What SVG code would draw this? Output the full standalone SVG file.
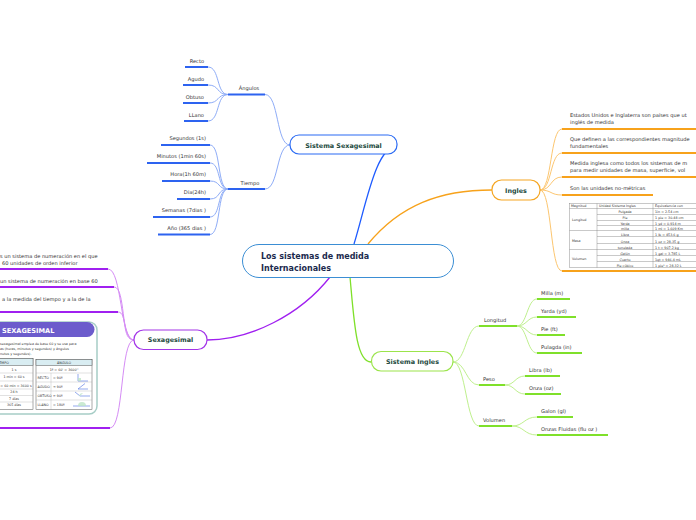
<svg xmlns="http://www.w3.org/2000/svg" width="696" height="520" viewBox="0 0 696 520">
<style>
.t{font-family:"DejaVu Sans",Verdana,sans-serif;font-size:5.1px;fill:#333}
.nt{font-family:"DejaVu Sans",Verdana,sans-serif;font-size:6.4px;font-weight:bold;fill:#1d4a40}
.ct{font-family:"DejaVu Sans",Verdana,sans-serif;font-size:8px;font-weight:bold;fill:#1b2a4e}
.tt{font-family:"DejaVu Sans",Verdana,sans-serif;font-size:3.6px;fill:#333}
.st{font-family:"DejaVu Sans",Verdana,sans-serif;font-size:3.3px;fill:#333}
.e{text-anchor:end}.m{text-anchor:middle}
.ub{stroke:#2d63f0;stroke-width:2;fill:none}
.uo{stroke:#f7a21b;stroke-width:2;fill:none}
.up{stroke:#a020f0;stroke-width:2;fill:none}
.ug{stroke:#7fe02a;stroke-width:2;fill:none}
.cb{stroke:#8eacf7;stroke-width:1;fill:none}
.co{stroke:#fcc670;stroke-width:1;fill:none}
.cp{stroke:#d58cf5;stroke-width:1;fill:none}
.cg{stroke:#bff08e;stroke-width:1;fill:none}
.grid{stroke:#777;stroke-width:0.4;fill:none}
</style>
<rect width="696" height="520" fill="#fff"/>
<g id="connectors">
 <path d="M354,244 C366,205 376,146 397,146" stroke="#1e5bff" stroke-width="1.3" fill="none"/>
 <path d="M368,244 C400,205 440,190 492,190" stroke="#f7a21b" stroke-width="1.3" fill="none"/>
 <path d="M330,277 C300,315 250,340 207,340" stroke="#a020f0" stroke-width="1.3" fill="none"/>
 <path d="M350,277 C354,320 356,362 371,362" stroke="#7fe02a" stroke-width="1.3" fill="none"/>
 <path class="cb" d="M290,145 C276,145 279,94.5 265,94.5"/>
 <path class="cb" d="M290,145 C276,145 279,189 265,189"/>
 <path class="cb" d="M228,94.5 C216,94.5 220,67 208,67"/>
 <path class="cb" d="M228,94.5 C216,94.5 220,85 208,85"/>
 <path class="cb" d="M228,94.5 C216,94.5 220,103 208,103"/>
 <path class="cb" d="M228,94.5 C216,94.5 220,121 208,121"/>
 <path class="cb" d="M228,189 C217,189 221,145 210,145"/>
 <path class="cb" d="M228,189 C217,189 221,163 210,163"/>
 <path class="cb" d="M228,189 C217,189 221,181 210,181"/>
 <path class="cb" d="M228,189 C217,189 221,199 210,199"/>
 <path class="cb" d="M228,189 C217,189 221,217 210,217"/>
 <path class="cb" d="M228,189 C217,189 221,234.5 210,234.5"/>
 <path class="co" d="M540,190 C552,190 550,129 562,129"/>
 <path class="co" d="M540,190 C552,190 550,153 562,153"/>
 <path class="co" d="M540,190 C552,190 550,177 562,177"/>
 <path class="co" d="M540,190 C552,190 550,195 562,195"/>
 <path class="co" d="M540,190 C552,190 550,271 562,271"/>
 <path class="cp" d="M134,340 C120,340 122,269 108,269"/>
 <path class="cp" d="M134,340 C120,340 126,287 114,287"/>
 <path class="cp" d="M134,340 C121,340 128,312 118,312"/>
 <path class="cp" d="M134,340 C120,340 124,428 110,428"/>
 <path class="cg" d="M453,362 C466,362 466,326 479,326"/>
 <path class="cg" d="M453,362 C466,362 466,385 479,385"/>
 <path class="cg" d="M453,362 C466,362 466,426 479,426"/>
 <path class="cg" d="M517,326 C527,326 527,299 537,299"/>
 <path class="cg" d="M517,326 C527,326 527,317 537,317"/>
 <path class="cg" d="M517,326 C527,326 527,335 537,335"/>
 <path class="cg" d="M517,326 C527,326 527,353 537,353"/>
 <path class="cg" d="M505,385 C515,385 515,376 525,376"/>
 <path class="cg" d="M505,385 C515,385 515,394 525,394"/>
 <path class="cg" d="M512,426 C524,426 524,417 537,417"/>
 <path class="cg" d="M512,426 C524,426 524,435 537,435"/>
</g>
<g id="central">
 <rect x="242.5" y="244.5" width="211" height="33" rx="16.5" fill="#fff" stroke="#3b8ed4" stroke-width="1"/>
 <text class="ct" x="261" y="259">Los sistemas de medida</text>
 <text class="ct" x="261" y="270.5">Internacionales</text>
</g>
<g id="sistema-sexagesimal">
 <rect x="290" y="135" width="107" height="19" rx="9" fill="#fff" stroke="#2b6bf3" stroke-width="1.2"/>
 <text class="nt m" x="343.5" y="147.5">Sistema Sexagesimal</text>
</g>
<g id="angulos"><line class="ub" x1="228" y1="94.5" x2="265" y2="94.5"/><text class="t m" x="249" y="89.5">Ángulos</text></g>
<g id="recto"><line class="ub" x1="185" y1="67" x2="208" y2="67"/><text class="t e" x="204" y="62.5">Recto</text></g>
<g id="agudo"><line class="ub" x1="183" y1="85" x2="208" y2="85"/><text class="t e" x="204" y="80.5">Agudo</text></g>
<g id="obtuso"><line class="ub" x1="183" y1="103" x2="208" y2="103"/><text class="t e" x="204" y="98.5">Obtuso</text></g>
<g id="llano"><line class="ub" x1="184" y1="121" x2="208" y2="121"/><text class="t e" x="204" y="116.5">LLano</text></g>
<g id="tiempo"><line class="ub" x1="228" y1="189" x2="265" y2="189"/><text class="t m" x="250" y="184.5">Tiempo</text></g>
<g id="segundos"><line class="ub" x1="161" y1="145" x2="210" y2="145"/><text class="t e" x="206" y="140">Segundos (1s)</text></g>
<g id="minutos"><line class="ub" x1="147" y1="163" x2="210" y2="163"/><text class="t e" x="206" y="158">Minutos (1min 60s)</text></g>
<g id="hora"><line class="ub" x1="162" y1="181" x2="210" y2="181"/><text class="t e" x="206" y="176">Hora(1h 60m)</text></g>
<g id="dia"><line class="ub" x1="177" y1="199" x2="210" y2="199"/><text class="t e" x="206" y="194">Día(24h)</text></g>
<g id="semanas"><line class="ub" x1="153" y1="217" x2="210" y2="217"/><text class="t e" x="206" y="212">Semanas (7dias )</text></g>
<g id="anio"><line class="ub" x1="158" y1="234.5" x2="210" y2="234.5"/><text class="t e" x="206" y="229.5">Año (365 dias )</text></g>
<g id="ingles">
 <rect x="492" y="180" width="48" height="20" rx="9.5" fill="#fff" stroke="#f5a623" stroke-width="1.2"/>
 <text class="nt m" x="516" y="192.5">Ingles</text>
</g>
<g id="ingles-1"><line class="uo" x1="562" y1="129" x2="700" y2="129"/><text class="t" x="570" y="117">Estados Unidos e Inglaterra son países que ut</text><text class="t" x="570" y="124">inglés de medida</text></g>
<g id="ingles-2"><line class="uo" x1="562" y1="153" x2="700" y2="153"/><text class="t" x="570" y="141">Que definen a las correspondientes magnitude</text><text class="t" x="570" y="148">fundamentales</text></g>
<g id="ingles-3"><line class="uo" x1="562" y1="177" x2="700" y2="177"/><text class="t" x="570" y="165">Medida inglesa como todos los sistemas de m</text><text class="t" x="570" y="172">para medir unidades de masa, superficie, vol</text></g>
<g id="ingles-4"><line class="uo" x1="562" y1="195" x2="653" y2="195"/><text class="t" x="570" y="190">Son las unidades no-métricas</text></g>
<g id="ingles-tabla">
 <line class="uo" x1="562" y1="271" x2="700" y2="271"/>
 <rect x="569.5" y="203.5" width="140" height="64" fill="#fff" class="grid"/>
 <line class="grid" x1="597" y1="203.5" x2="597" y2="267.5"/>
 <line class="grid" x1="653" y1="203.5" x2="653" y2="267.5"/>
 <line class="grid" x1="569.5" y1="208.5" x2="700" y2="208.5"/>
 <line class="grid" x1="569.5" y1="230.5" x2="700" y2="230.5"/>
 <line class="grid" x1="569.5" y1="249.5" x2="700" y2="249.5"/>
 <g class="grid">
  <line x1="597" y1="214.5" x2="700" y2="214.5"/><line x1="597" y1="220.5" x2="700" y2="220.5"/><line x1="597" y1="225.5" x2="700" y2="225.5"/>
  <line x1="597" y1="236.5" x2="700" y2="236.5"/><line x1="597" y1="243.5" x2="700" y2="243.5"/>
  <line x1="597" y1="255.5" x2="700" y2="255.5"/><line x1="597" y1="261.5" x2="700" y2="261.5"/>
 </g>
 <text class="st" x="571" y="207.3">Magnitud</text><text class="st" x="599" y="207.3">Unidad Sistema Ingles</text><text class="st" x="655" y="207.3">Equivalencia con</text>
 <text class="st" x="572" y="221">Longitud</text><text class="st" x="572" y="242">Masa</text><text class="st" x="572" y="259.5">Volumen</text>
 <g class="st m">
  <text x="625" y="213">Pulgada</text><text x="625" y="219">Pie</text><text x="625" y="224.5">Yarda</text><text x="625" y="229.7">milla</text>
  <text x="625" y="235.5">Libra</text><text x="625" y="242.5">Onza</text><text x="625" y="248.5">tonelada</text>
  <text x="625" y="254.5">Galón</text><text x="625" y="260.5">Cuarto</text><text x="625" y="266.5">Pie cúbico</text>
 </g>
 <g class="st">
  <text x="655" y="213">1in = 2.54 cm</text><text x="655" y="219">1 pie = 30.48 cm</text><text x="655" y="224.5">1 yd = 0.914 m</text><text x="655" y="229.7">1 mi = 1.609 Km</text>
  <text x="655" y="235.5">1 lb = 453.6 g</text><text x="655" y="242.5">1 oz = 28.35 g</text><text x="655" y="248.5">1 t = 907.2 kg</text>
  <text x="655" y="254.5">1 gal = 3.785 L</text><text x="655" y="260.5">1qt = 946.4 mL</text><text x="655" y="266.5">1 pie³ = 28.32 L</text>
 </g>
</g>
<g id="sexagesimal">
 <rect x="134" y="330" width="73" height="19.5" rx="9.5" fill="#fff" stroke="#a335e8" stroke-width="1.2"/>
 <text class="nt m" x="170.5" y="341.8">Sexagesimal</text>
</g>
<g id="sexa-1"><line class="up" x1="-5" y1="269" x2="108" y2="269"/><text class="t" x="0" y="257.5">s un sistema de numeración en el que</text><text class="t" x="2" y="264.5">60 unidades de orden inferior</text></g>
<g id="sexa-2"><line class="up" x1="-5" y1="287" x2="114" y2="287"/><text class="t" x="0" y="282.5">un sistema de numeración en base 60</text></g>
<g id="sexa-3"><line class="up" x1="-5" y1="312" x2="118" y2="312"/><text class="t" x="2" y="301">a la medida del tiempo y a la de la</text></g>
<g id="sexa-imagen">
 <line class="up" x1="-5" y1="428" x2="110" y2="428"/>
 <rect x="-12" y="322" width="109" height="92" rx="8" fill="#fff" stroke="#a6cdc6" stroke-width="1.5"/>
 <path d="M-12,322 H87 A7.5,7.5 0 0 1 87,337 H-12 Z" fill="#6c5ccc"/>
 <text x="2" y="333" style="font-family:'DejaVu Sans',Verdana,sans-serif;font-size:6.6px;font-weight:bold;fill:#fff">SEXAGESIMAL</text>
 <text class="st" x="0" y="344.5">sexagesimal emplea de base 60 y se usa para</text>
 <text class="st" x="0" y="349.5">as (horas, minutos y segundos) y ángulos</text>
 <text class="st" x="0" y="354.5">nutos y segundos).</text>
 <rect x="-5" y="358.5" width="38" height="51" fill="#fff" stroke="#555" stroke-width="0.5"/>
 <rect x="-5" y="358.5" width="38" height="7" fill="#d9edf2" stroke="#555" stroke-width="0.5"/>
 <g stroke="#999" stroke-width="0.3"><line x1="-5" y1="373" x2="33" y2="373"/><line x1="-5" y1="381" x2="33" y2="381"/><line x1="-5" y1="389" x2="33" y2="389"/><line x1="-5" y1="395.5" x2="33" y2="395.5"/><line x1="-5" y1="402" x2="33" y2="402"/></g>
 <g class="st m">
  <text x="4" y="363.5">EMPO</text><text x="14" y="370.5">1 s</text><text x="14" y="378">1 min = 60 s</text><text x="16" y="386.5">= 60 min = 3600 s</text>
  <text x="14" y="393">24 h</text><text x="14" y="399.5">7 días</text><text x="14" y="406">365 días</text>
 </g>
 <rect x="36" y="359.5" width="56" height="50" fill="#fff" stroke="#555" stroke-width="0.5"/>
 <rect x="36" y="359.5" width="56" height="6" fill="#d9edf2" stroke="#555" stroke-width="0.5"/>
 <g stroke="#999" stroke-width="0.3"><line x1="36" y1="373" x2="92" y2="373"/><line x1="36" y1="382" x2="92" y2="382"/><line x1="36" y1="391" x2="92" y2="391"/><line x1="36" y1="400" x2="92" y2="400"/><line x1="51" y1="373" x2="51" y2="409.5"/></g>
 <text class="st m" x="64" y="364">ÁNGULO</text>
 <text class="st m" x="64" y="370.5">1º = 60' = 3600''</text>
 <g class="st"><text x="37.5" y="379">RECTO</text><text x="37.5" y="388">AGUDO</text><text x="37.5" y="397">OBTUSO</text><text x="37.5" y="406">LLANO</text>
 <text x="53" y="379">= 90º</text><text x="53" y="388">&lt; 90º</text><text x="53" y="397">&gt; 90º</text><text x="53" y="406">= 180º</text></g>
 <g fill="none" stroke="#4a6ee0" stroke-width="0.6">
  <path d="M78,374 V381 H88" /><path d="M78,389 H88 M78,389 L85,383.5"/><path d="M75,392 L80,396 H90"/><path d="M73,406 H90"/>
 </g>
 <g fill="#bfe5c8" opacity="0.8"><rect x="78" y="378" width="3" height="3"/><path d="M80,389 A3,3 0 0 0 80.5,387.5 Z"/><path d="M79,396 A4,4 0 0 1 83,393 L80,396 Z"/><path d="M78,406 A4,4 0 0 1 86,406 Z"/></g>
</g>
<g id="sistema-ingles">
 <rect x="371.5" y="351.5" width="81.5" height="19.5" rx="9.5" fill="#fff" stroke="#9be44b" stroke-width="1.2"/>
 <text class="nt m" x="412.5" y="363.5">Sistema Ingles</text>
</g>
<g id="longitud"><line class="ug" x1="479" y1="326" x2="517" y2="326"/><text class="t" x="484" y="322">Longitud</text></g>
<g id="milla"><line class="ug" x1="537" y1="299" x2="570" y2="299"/><text class="t" x="541" y="295">Milla (m)</text></g>
<g id="yarda"><line class="ug" x1="537" y1="317" x2="576" y2="317"/><text class="t" x="541" y="313">Yarda (yd)</text></g>
<g id="pie"><line class="ug" x1="537" y1="335" x2="565" y2="335"/><text class="t" x="541" y="331">Pie (ft)</text></g>
<g id="pulgada"><line class="ug" x1="537" y1="353" x2="582" y2="353"/><text class="t" x="541" y="349">Pulagda (in)</text></g>
<g id="peso"><line class="ug" x1="479" y1="385" x2="505" y2="385"/><text class="t" x="483" y="381">Peso</text></g>
<g id="libra"><line class="ug" x1="525" y1="376" x2="560" y2="376"/><text class="t" x="529" y="372">Libra (lb)</text></g>
<g id="onza"><line class="ug" x1="525" y1="394" x2="561" y2="394"/><text class="t" x="529" y="390">Onza (oz)</text></g>
<g id="volumen"><line class="ug" x1="479" y1="426" x2="512" y2="426"/><text class="t" x="483" y="422">Volumen</text></g>
<g id="galon"><line class="ug" x1="537" y1="417" x2="573" y2="417"/><text class="t" x="541" y="413">Galon (gl)</text></g>
<g id="onzas-fluidas"><line class="ug" x1="537" y1="435" x2="608" y2="435"/><text class="t" x="541" y="431">Onzas Fluidas (flu oz )</text></g>
</svg>
